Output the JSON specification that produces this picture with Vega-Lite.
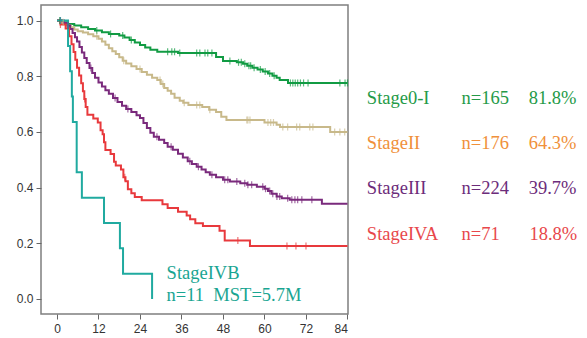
{
  "$schema": "https://vega.github.io/schema/vega-lite/v6.json",
  "width": 307,
  "height": 309,
  "autosize": {"type": "none"},
  "padding": {"left": 41, "top": 5, "right": 239, "bottom": 24},
  "background": "white",
  "config": {
    "view": {"stroke": "#7f7f7f", "strokeWidth": 1.5},
    "axis": {"grid": false, "domain": false, "tickColor": "#666666", "tickSize": 5, "tickWidth": 1, "labelFont": "Liberation Sans", "labelFontSize": 12, "labelColor": "#333333", "title": null}
  },
  "datasets": {
    "curves": [
      {"stage": "Stage0-I", "t": 0, "s": 1.0}, {"stage": "Stage0-I", "t": 1.5, "s": 0.994}, {"stage": "Stage0-I", "t": 3, "s": 0.988}, {"stage": "Stage0-I", "t": 5, "s": 0.982}, {"stage": "Stage0-I", "t": 7, "s": 0.976}, {"stage": "Stage0-I", "t": 9, "s": 0.970}, {"stage": "Stage0-I", "t": 11, "s": 0.964}, {"stage": "Stage0-I", "t": 13, "s": 0.958}, {"stage": "Stage0-I", "t": 15, "s": 0.952}, {"stage": "Stage0-I", "t": 18, "s": 0.946}, {"stage": "Stage0-I", "t": 19.5, "s": 0.939}, {"stage": "Stage0-I", "t": 21, "s": 0.930}, {"stage": "Stage0-I", "t": 22.5, "s": 0.921}, {"stage": "Stage0-I", "t": 24, "s": 0.912}, {"stage": "Stage0-I", "t": 25.5, "s": 0.903}, {"stage": "Stage0-I", "t": 27, "s": 0.895}, {"stage": "Stage0-I", "t": 29, "s": 0.888}, {"stage": "Stage0-I", "t": 35, "s": 0.884}, {"stage": "Stage0-I", "t": 46, "s": 0.869}, {"stage": "Stage0-I", "t": 48, "s": 0.855}, {"stage": "Stage0-I", "t": 52, "s": 0.850}, {"stage": "Stage0-I", "t": 53.8, "s": 0.845}, {"stage": "Stage0-I", "t": 55, "s": 0.838}, {"stage": "Stage0-I", "t": 56.5, "s": 0.831}, {"stage": "Stage0-I", "t": 58, "s": 0.824}, {"stage": "Stage0-I", "t": 59.5, "s": 0.817}, {"stage": "Stage0-I", "t": 61, "s": 0.810}, {"stage": "Stage0-I", "t": 62.3, "s": 0.802}, {"stage": "Stage0-I", "t": 63.5, "s": 0.795}, {"stage": "Stage0-I", "t": 64.4, "s": 0.787}, {"stage": "Stage0-I", "t": 66.8, "s": 0.776}, {"stage": "Stage0-I", "t": 84, "s": 0.776},

      {"stage": "StageII", "t": 0, "s": 1.0}, {"stage": "StageII", "t": 1, "s": 0.994}, {"stage": "StageII", "t": 2, "s": 0.988}, {"stage": "StageII", "t": 3, "s": 0.982}, {"stage": "StageII", "t": 4, "s": 0.976}, {"stage": "StageII", "t": 5, "s": 0.968}, {"stage": "StageII", "t": 6, "s": 0.962}, {"stage": "StageII", "t": 7.5, "s": 0.957}, {"stage": "StageII", "t": 9, "s": 0.951}, {"stage": "StageII", "t": 10.5, "s": 0.944}, {"stage": "StageII", "t": 12, "s": 0.935}, {"stage": "StageII", "t": 13, "s": 0.925}, {"stage": "StageII", "t": 14, "s": 0.913}, {"stage": "StageII", "t": 15, "s": 0.901}, {"stage": "StageII", "t": 16, "s": 0.890}, {"stage": "StageII", "t": 17, "s": 0.880}, {"stage": "StageII", "t": 18, "s": 0.868}, {"stage": "StageII", "t": 19, "s": 0.856}, {"stage": "StageII", "t": 20, "s": 0.846}, {"stage": "StageII", "t": 21.5, "s": 0.836}, {"stage": "StageII", "t": 23, "s": 0.826}, {"stage": "StageII", "t": 24.5, "s": 0.815}, {"stage": "StageII", "t": 26, "s": 0.805}, {"stage": "StageII", "t": 27.5, "s": 0.795}, {"stage": "StageII", "t": 29, "s": 0.787}, {"stage": "StageII", "t": 30, "s": 0.772}, {"stage": "StageII", "t": 31, "s": 0.758}, {"stage": "StageII", "t": 32, "s": 0.748}, {"stage": "StageII", "t": 33, "s": 0.737}, {"stage": "StageII", "t": 34, "s": 0.723}, {"stage": "StageII", "t": 35.5, "s": 0.712}, {"stage": "StageII", "t": 36.5, "s": 0.705}, {"stage": "StageII", "t": 38, "s": 0.697}, {"stage": "StageII", "t": 42, "s": 0.690}, {"stage": "StageII", "t": 44, "s": 0.680}, {"stage": "StageII", "t": 46, "s": 0.672}, {"stage": "StageII", "t": 47.5, "s": 0.655}, {"stage": "StageII", "t": 49, "s": 0.643}, {"stage": "StageII", "t": 60, "s": 0.634}, {"stage": "StageII", "t": 63.5, "s": 0.626}, {"stage": "StageII", "t": 64.5, "s": 0.618}, {"stage": "StageII", "t": 79, "s": 0.600}, {"stage": "StageII", "t": 84, "s": 0.600},

      {"stage": "StageIII", "t": 0, "s": 1.0}, {"stage": "StageIII", "t": 2, "s": 0.991}, {"stage": "StageIII", "t": 3, "s": 0.982}, {"stage": "StageIII", "t": 3.8, "s": 0.970}, {"stage": "StageIII", "t": 4.5, "s": 0.955}, {"stage": "StageIII", "t": 5.2, "s": 0.940}, {"stage": "StageIII", "t": 5.8, "s": 0.925}, {"stage": "StageIII", "t": 6.5, "s": 0.905}, {"stage": "StageIII", "t": 7.2, "s": 0.885}, {"stage": "StageIII", "t": 7.9, "s": 0.866}, {"stage": "StageIII", "t": 8.6, "s": 0.848}, {"stage": "StageIII", "t": 9.4, "s": 0.830}, {"stage": "StageIII", "t": 10.2, "s": 0.812}, {"stage": "StageIII", "t": 11, "s": 0.795}, {"stage": "StageIII", "t": 12, "s": 0.778}, {"stage": "StageIII", "t": 13, "s": 0.763}, {"stage": "StageIII", "t": 14, "s": 0.750}, {"stage": "StageIII", "t": 15, "s": 0.737}, {"stage": "StageIII", "t": 16.2, "s": 0.722}, {"stage": "StageIII", "t": 17.5, "s": 0.708}, {"stage": "StageIII", "t": 18.8, "s": 0.694}, {"stage": "StageIII", "t": 20, "s": 0.682}, {"stage": "StageIII", "t": 21.5, "s": 0.672}, {"stage": "StageIII", "t": 23, "s": 0.660}, {"stage": "StageIII", "t": 24, "s": 0.650}, {"stage": "StageIII", "t": 25, "s": 0.632}, {"stage": "StageIII", "t": 26, "s": 0.614}, {"stage": "StageIII", "t": 27, "s": 0.597}, {"stage": "StageIII", "t": 28, "s": 0.583}, {"stage": "StageIII", "t": 29.5, "s": 0.572}, {"stage": "StageIII", "t": 31, "s": 0.560}, {"stage": "StageIII", "t": 32, "s": 0.547}, {"stage": "StageIII", "t": 33.5, "s": 0.536}, {"stage": "StageIII", "t": 35, "s": 0.522}, {"stage": "StageIII", "t": 36.4, "s": 0.508}, {"stage": "StageIII", "t": 37.8, "s": 0.495}, {"stage": "StageIII", "t": 39, "s": 0.485}, {"stage": "StageIII", "t": 40.4, "s": 0.475}, {"stage": "StageIII", "t": 41.8, "s": 0.465}, {"stage": "StageIII", "t": 43, "s": 0.455}, {"stage": "StageIII", "t": 44.2, "s": 0.446}, {"stage": "StageIII", "t": 46, "s": 0.437}, {"stage": "StageIII", "t": 48, "s": 0.428}, {"stage": "StageIII", "t": 50, "s": 0.422}, {"stage": "StageIII", "t": 53, "s": 0.416}, {"stage": "StageIII", "t": 55, "s": 0.410}, {"stage": "StageIII", "t": 57.8, "s": 0.403}, {"stage": "StageIII", "t": 60, "s": 0.396}, {"stage": "StageIII", "t": 61, "s": 0.388}, {"stage": "StageIII", "t": 62, "s": 0.378}, {"stage": "StageIII", "t": 63.5, "s": 0.368}, {"stage": "StageIII", "t": 65, "s": 0.362}, {"stage": "StageIII", "t": 67.3, "s": 0.356}, {"stage": "StageIII", "t": 76.6, "s": 0.342}, {"stage": "StageIII", "t": 84, "s": 0.342},

      {"stage": "StageIVA", "t": 0, "s": 1.0}, {"stage": "StageIVA", "t": 1, "s": 0.986}, {"stage": "StageIVA", "t": 2.5, "s": 0.972}, {"stage": "StageIVA", "t": 3.5, "s": 0.944}, {"stage": "StageIVA", "t": 4.2, "s": 0.915}, {"stage": "StageIVA", "t": 4.8, "s": 0.887}, {"stage": "StageIVA", "t": 5.3, "s": 0.859}, {"stage": "StageIVA", "t": 5.8, "s": 0.831}, {"stage": "StageIVA", "t": 6.4, "s": 0.803}, {"stage": "StageIVA", "t": 7, "s": 0.775}, {"stage": "StageIVA", "t": 7.5, "s": 0.746}, {"stage": "StageIVA", "t": 7.9, "s": 0.718}, {"stage": "StageIVA", "t": 8.3, "s": 0.690}, {"stage": "StageIVA", "t": 8.8, "s": 0.662}, {"stage": "StageIVA", "t": 10.5, "s": 0.648}, {"stage": "StageIVA", "t": 11.8, "s": 0.634}, {"stage": "StageIVA", "t": 12.6, "s": 0.606}, {"stage": "StageIVA", "t": 13.2, "s": 0.592}, {"stage": "StageIVA", "t": 13.6, "s": 0.563}, {"stage": "StageIVA", "t": 14, "s": 0.535}, {"stage": "StageIVA", "t": 15.5, "s": 0.521}, {"stage": "StageIVA", "t": 16.5, "s": 0.493}, {"stage": "StageIVA", "t": 17, "s": 0.479}, {"stage": "StageIVA", "t": 18.5, "s": 0.465}, {"stage": "StageIVA", "t": 19.2, "s": 0.437}, {"stage": "StageIVA", "t": 19.8, "s": 0.423}, {"stage": "StageIVA", "t": 20.5, "s": 0.394}, {"stage": "StageIVA", "t": 21.5, "s": 0.380}, {"stage": "StageIVA", "t": 22.5, "s": 0.366}, {"stage": "StageIVA", "t": 24.5, "s": 0.355}, {"stage": "StageIVA", "t": 30.5, "s": 0.340}, {"stage": "StageIVA", "t": 32, "s": 0.327}, {"stage": "StageIVA", "t": 35, "s": 0.313}, {"stage": "StageIVA", "t": 37.5, "s": 0.300}, {"stage": "StageIVA", "t": 38.5, "s": 0.286}, {"stage": "StageIVA", "t": 40, "s": 0.272}, {"stage": "StageIVA", "t": 42.2, "s": 0.262}, {"stage": "StageIVA", "t": 47, "s": 0.245}, {"stage": "StageIVA", "t": 48.5, "s": 0.210}, {"stage": "StageIVA", "t": 55.8, "s": 0.190}, {"stage": "StageIVA", "t": 84, "s": 0.190},

      {"stage": "StageIVB", "t": 0, "s": 1.0}, {"stage": "StageIVB", "t": 3.2, "s": 0.909}, {"stage": "StageIVB", "t": 3.8, "s": 0.818}, {"stage": "StageIVB", "t": 4.3, "s": 0.727}, {"stage": "StageIVB", "t": 4.6, "s": 0.636}, {"stage": "StageIVB", "t": 5.7, "s": 0.455}, {"stage": "StageIVB", "t": 7.2, "s": 0.364}, {"stage": "StageIVB", "t": 13.6, "s": 0.273}, {"stage": "StageIVB", "t": 18.2, "s": 0.182}, {"stage": "StageIVB", "t": 19.1, "s": 0.091}, {"stage": "StageIVB", "t": 27.5, "s": 0.0}
    ],
    "censor": [
      {"stage": "Stage0-I", "t": 0.8, "s": 1.0}, {"stage": "Stage0-I", "t": 11.5, "s": 0.964}, {"stage": "Stage0-I", "t": 15.5, "s": 0.952}, {"stage": "Stage0-I", "t": 19, "s": 0.946}, {"stage": "Stage0-I", "t": 21.5, "s": 0.930}, {"stage": "Stage0-I", "t": 32, "s": 0.888}, {"stage": "Stage0-I", "t": 33.2, "s": 0.888}, {"stage": "Stage0-I", "t": 34, "s": 0.888}, {"stage": "Stage0-I", "t": 35.5, "s": 0.884}, {"stage": "Stage0-I", "t": 40.4, "s": 0.884}, {"stage": "Stage0-I", "t": 41.3, "s": 0.884}, {"stage": "Stage0-I", "t": 42.8, "s": 0.884}, {"stage": "Stage0-I", "t": 43.6, "s": 0.884}, {"stage": "Stage0-I", "t": 44.8, "s": 0.884}, {"stage": "Stage0-I", "t": 50, "s": 0.855}, {"stage": "Stage0-I", "t": 52.5, "s": 0.850}, {"stage": "Stage0-I", "t": 53.3, "s": 0.850}, {"stage": "Stage0-I", "t": 54.3, "s": 0.845}, {"stage": "Stage0-I", "t": 55.5, "s": 0.838}, {"stage": "Stage0-I", "t": 56, "s": 0.838}, {"stage": "Stage0-I", "t": 57, "s": 0.831}, {"stage": "Stage0-I", "t": 58.8, "s": 0.824}, {"stage": "Stage0-I", "t": 60.2, "s": 0.817}, {"stage": "Stage0-I", "t": 61.5, "s": 0.810}, {"stage": "Stage0-I", "t": 62.8, "s": 0.802}, {"stage": "Stage0-I", "t": 67.5, "s": 0.776}, {"stage": "Stage0-I", "t": 68.2, "s": 0.776}, {"stage": "Stage0-I", "t": 68.9, "s": 0.776}, {"stage": "Stage0-I", "t": 69.6, "s": 0.776}, {"stage": "Stage0-I", "t": 70.4, "s": 0.776}, {"stage": "Stage0-I", "t": 71.3, "s": 0.776}, {"stage": "Stage0-I", "t": 72.6, "s": 0.776}, {"stage": "Stage0-I", "t": 81.8, "s": 0.776}, {"stage": "Stage0-I", "t": 83.3, "s": 0.776}, {"stage": "Stage0-I", "t": 84, "s": 0.776},
      {"stage": "StageII", "t": 1.8, "s": 0.994}, {"stage": "StageII", "t": 11.5, "s": 0.944}, {"stage": "StageII", "t": 19.3, "s": 0.856}, {"stage": "StageII", "t": 24, "s": 0.826}, {"stage": "StageII", "t": 29.8, "s": 0.787}, {"stage": "StageII", "t": 30.6, "s": 0.772}, {"stage": "StageII", "t": 36.8, "s": 0.705}, {"stage": "StageII", "t": 40.4, "s": 0.697}, {"stage": "StageII", "t": 41.3, "s": 0.697}, {"stage": "StageII", "t": 44.2, "s": 0.680}, {"stage": "StageII", "t": 54.9, "s": 0.643}, {"stage": "StageII", "t": 55.2, "s": 0.643}, {"stage": "StageII", "t": 55.8, "s": 0.643}, {"stage": "StageII", "t": 61, "s": 0.634}, {"stage": "StageII", "t": 61.8, "s": 0.634}, {"stage": "StageII", "t": 62.6, "s": 0.634}, {"stage": "StageII", "t": 65.3, "s": 0.618}, {"stage": "StageII", "t": 66.7, "s": 0.618}, {"stage": "StageII", "t": 69.3, "s": 0.618}, {"stage": "StageII", "t": 70.2, "s": 0.618}, {"stage": "StageII", "t": 73.1, "s": 0.618}, {"stage": "StageII", "t": 74, "s": 0.618}, {"stage": "StageII", "t": 80.3, "s": 0.600}, {"stage": "StageII", "t": 81.8, "s": 0.600}, {"stage": "StageII", "t": 83.2, "s": 0.600},
      {"stage": "StageIII", "t": 1, "s": 1.0}, {"stage": "StageIII", "t": 3.2, "s": 0.982}, {"stage": "StageIII", "t": 9.8, "s": 0.830}, {"stage": "StageIII", "t": 16.8, "s": 0.722}, {"stage": "StageIII", "t": 20.5, "s": 0.682}, {"stage": "StageIII", "t": 28.9, "s": 0.583}, {"stage": "StageIII", "t": 33, "s": 0.547}, {"stage": "StageIII", "t": 38.4, "s": 0.495}, {"stage": "StageIII", "t": 40.9, "s": 0.475}, {"stage": "StageIII", "t": 44.8, "s": 0.446}, {"stage": "StageIII", "t": 48.5, "s": 0.428}, {"stage": "StageIII", "t": 49.4, "s": 0.428}, {"stage": "StageIII", "t": 52, "s": 0.422}, {"stage": "StageIII", "t": 54.3, "s": 0.416}, {"stage": "StageIII", "t": 55.2, "s": 0.410}, {"stage": "StageIII", "t": 56.3, "s": 0.410}, {"stage": "StageIII", "t": 59.5, "s": 0.403}, {"stage": "StageIII", "t": 60.3, "s": 0.396}, {"stage": "StageIII", "t": 61.5, "s": 0.388}, {"stage": "StageIII", "t": 62.4, "s": 0.378}, {"stage": "StageIII", "t": 63.6, "s": 0.368}, {"stage": "StageIII", "t": 64.4, "s": 0.368}, {"stage": "StageIII", "t": 66.7, "s": 0.362}, {"stage": "StageIII", "t": 67.9, "s": 0.356}, {"stage": "StageIII", "t": 68.8, "s": 0.356}, {"stage": "StageIII", "t": 69.6, "s": 0.356}, {"stage": "StageIII", "t": 70.8, "s": 0.356}, {"stage": "StageIII", "t": 73.7, "s": 0.356},
      {"stage": "StageIVA", "t": 1, "s": 0.986}, {"stage": "StageIVA", "t": 8, "s": 0.718}, {"stage": "StageIVA", "t": 19.6, "s": 0.437}, {"stage": "StageIVA", "t": 52.3, "s": 0.210}, {"stage": "StageIVA", "t": 66.5, "s": 0.190}, {"stage": "StageIVA", "t": 69.1, "s": 0.190}, {"stage": "StageIVA", "t": 72, "s": 0.190},
      {"stage": "StageIVB", "t": 1, "s": 1.0}
    ],
    "labels": [
      {"g": "Stage0-I", "label": "Stage0-I", "t": 89.6, "s": 0.7215},
      {"g": "Stage0-I", "label": "n=165", "t": 117.0, "s": 0.7215},
      {"g": "Stage0-I", "label": "81.8%", "t": 136.4, "s": 0.7215},
      {"g": "StageII", "label": "StageII", "t": 89.6, "s": 0.562},
      {"g": "StageII", "label": "n=176", "t": 117.0, "s": 0.562},
      {"g": "StageII", "label": "64.3%", "t": 136.4, "s": 0.562},
      {"g": "StageIII", "label": "StageIII", "t": 89.6, "s": 0.398},
      {"g": "StageIII", "label": "n=224", "t": 117.0, "s": 0.398},
      {"g": "StageIII", "label": "39.7%", "t": 136.4, "s": 0.398},
      {"g": "StageIVA", "label": "StageIVA", "t": 89.6, "s": 0.234},
      {"g": "StageIVA", "label": "n=71", "t": 117.0, "s": 0.234},
      {"g": "StageIVA", "label": "18.8%", "t": 136.6, "s": 0.234},
      {"g": "StageIVB", "label": "StageIVB", "t": 31.7, "s": 0.0933},
      {"g": "StageIVB", "label": "n=11\u00a0\u00a0MST=5.7M", "t": 31.7, "s": 0.013}
    ]
  },
  "layer": [
    {
      "data": {"name": "curves"},
      "mark": {"type": "line", "interpolate": "step-after", "strokeWidth": 2},
      "encoding": {
        "x": {"field": "t", "type": "quantitative", "scale": {"domain": [-4.62, 84.15], "nice": false, "zero": false}, "axis": {"values": [0, 12, 24, 36, 48, 60, 72, 84], "labelPadding": 4}},
        "y": {"field": "s", "type": "quantitative", "scale": {"domain": [-0.054, 1.056], "nice": false, "zero": false}, "axis": {"values": [0, 0.2, 0.4, 0.6, 0.8, 1.0], "format": ".1f", "labelPadding": 3}},
        "color": {"field": "stage", "type": "nominal", "legend": null, "scale": {"domain": ["Stage0-I", "StageII", "StageIII", "StageIVA", "StageIVB"], "range": ["#119b43", "#c8b98a", "#7a2a7c", "#e8393c", "#20aaa0"]}}
      }
    },
    {
      "data": {"name": "censor"},
      "mark": {"type": "tick", "orient": "vertical", "size": 7, "thickness": 1.2},
      "encoding": {
        "x": {"field": "t", "type": "quantitative"},
        "y": {"field": "s", "type": "quantitative"},
        "color": {"field": "stage", "type": "nominal", "legend": null, "scale": {"domain": ["Stage0-I", "StageII", "StageIII", "StageIVA", "StageIVB"], "range": ["#119b43", "#c8b98a", "#7a2a7c", "#e8393c", "#20aaa0"]}}
      }
    },
    {
      "data": {"name": "labels"},
      "mark": {"type": "text", "align": "left", "baseline": "middle", "font": "Liberation Serif", "fontSize": 18.5},
      "encoding": {
        "x": {"field": "t", "type": "quantitative"},
        "y": {"field": "s", "type": "quantitative"},
        "text": {"field": "label", "type": "nominal"},
        "color": {"field": "g", "type": "nominal", "legend": null, "scale": {"domain": ["Stage0-I", "StageII", "StageIII", "StageIVA", "StageIVB"], "range": ["#259a48", "#f0903a", "#6c2c7a", "#e8474b", "#19a592"]}}
      }
    }
  ],
  "resolve": {"scale": {"color": "independent"}}
}
